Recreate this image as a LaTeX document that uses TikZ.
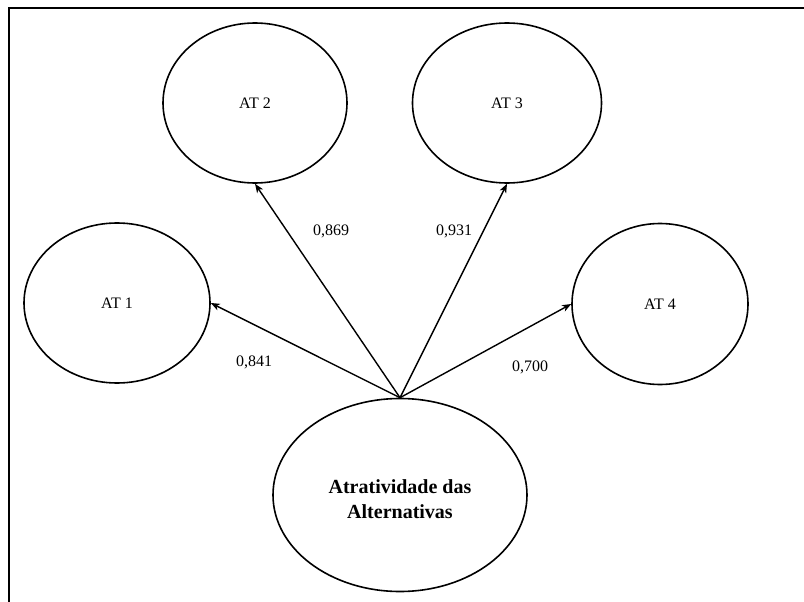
\documentclass[tikz,border=0pt]{standalone}
\usepackage{fontspec}
\setmainfont{Liberation Serif}
\usetikzlibrary{shapes.geometric,arrows.meta}
\begin{document}
\begin{tikzpicture}[x=1pt,y=-1pt,
  construct/.style={ellipse,draw=black,line width=1.6pt,inner sep=0pt,
    font=\fontsize{16}{19}\selectfont},
  loading/.style={line width=1.4pt,-{Stealth[length=9pt,width=7pt,inset=2.5pt]}},
  weight/.style={font=\fontsize{16}{19}\selectfont}]
\useasboundingbox (0,0) rectangle (804,602);
% frame
\draw[line width=2pt] (9,603) -- (9,8) -- (805,8);
% indicators
\node[construct,minimum width=186pt,minimum height=160pt] (at1) at (117,303) {AT 1};
\node[construct,minimum width=184pt,minimum height=160pt] (at2) at (255,103) {AT 2};
\node[construct,minimum width=189pt,minimum height=160pt] (at3) at (507,103) {AT 3};
\node[construct,minimum width=176pt,minimum height=161pt] (at4) at (660,304) {AT 4};
% latent construct (strut on the first line lowers the text block a little)
\node[construct,minimum width=254pt,minimum height=193pt,align=center,
  font=\fontsize{20}{25}\selectfont\bfseries] (src) at (400,495)
  {\rule{0pt}{22pt}Atratividade das\\Alternativas};
% loadings
\draw[loading] (src.north) -- (at1.east);
\draw[loading] (src.north) -- (at2.south);
\draw[loading] (src.north) -- (at3.south);
\draw[loading] (src.north) -- (at4.west);
\node[weight] (w1) at (254,362) {0,841};
\node[weight] (w2) at (331,231) {0,869};
\node[weight] (w3) at (454,231) {0,931};
\node[weight] (w4) at (530,367) {0,700};
\end{tikzpicture}
\end{document}
